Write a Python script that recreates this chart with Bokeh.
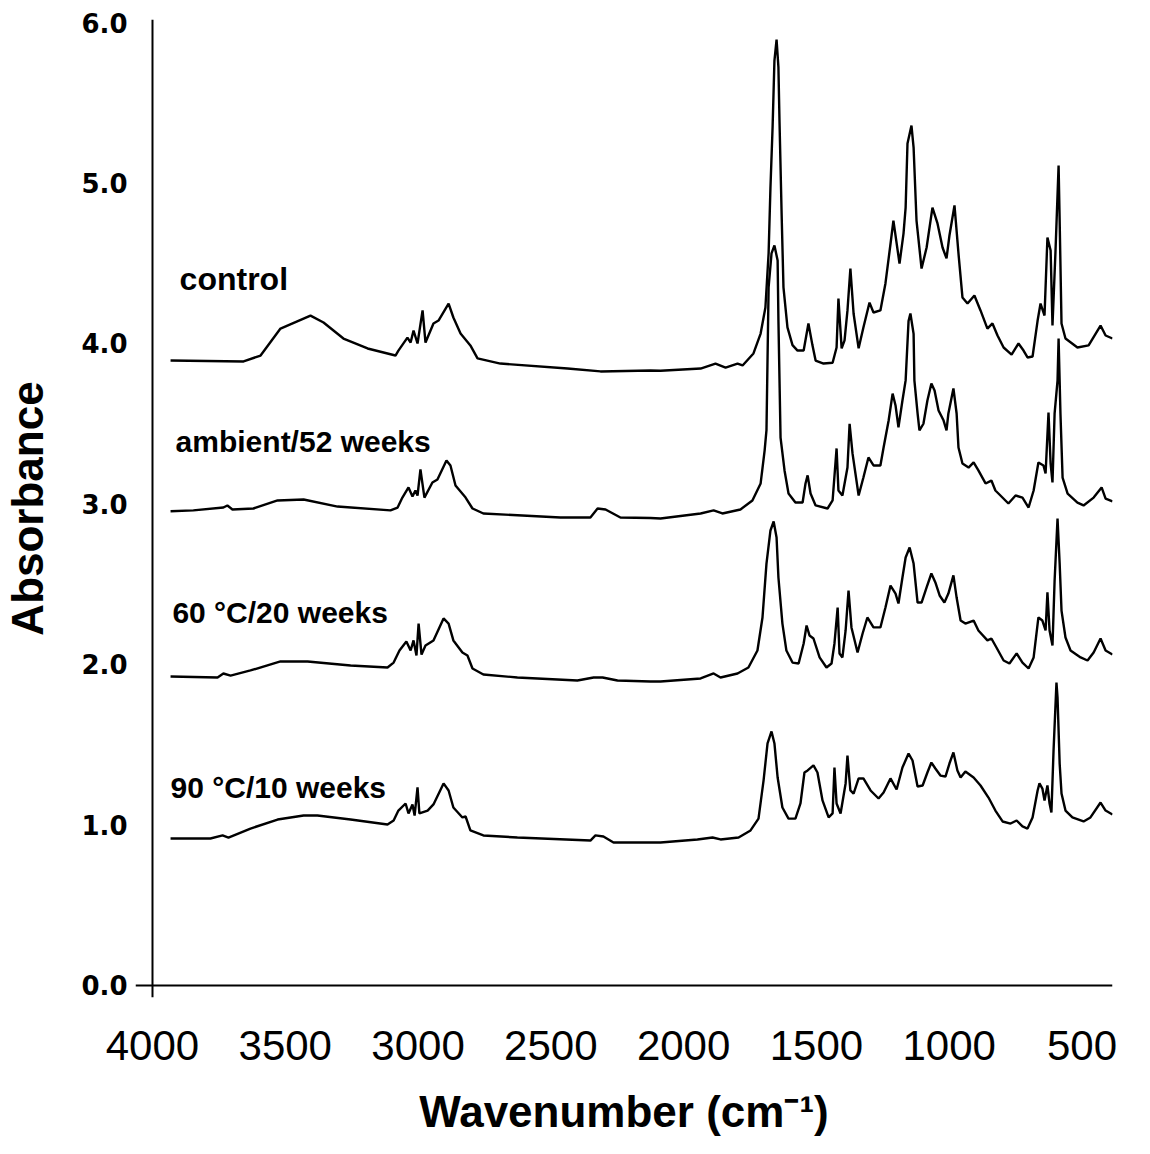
from bokeh.plotting import figure
from bokeh.models import Range1d, FixedTicker, NumeralTickFormatter, Span, ColumnDataSource
from bokeh.core.properties import value
from bokeh.embed import file_html
from bokeh.resources import INLINE

# ---------------- data (wavenumber in cm^-1, absorbance) ----------------
control_wn = [3932, 3657, 3593, 3518, 3405, 3356, 3281, 3190, 3085, 3074, 3040, 3028, 3017, 3002, 2983, 2972, 2942, 2923, 2885, 2867,
              2840, 2803, 2776, 2690, 2437, 2313, 2125,
              2087, 1936, 1880, 1842, 1797, 1778, 1737, 1710, 1692, 1680, 1673, 1665, 1658, 1650, 1643, 1639, 1631, 1624, 1609, 1590,
              1571, 1548, 1530, 1515, 1503, 1473, 1439, 1424, 1417, 1405, 1394, 1383, 1372, 1360, 1341, 1323, 1300, 1285, 1259, 1240,
              1221, 1210, 1187, 1172, 1164, 1157, 1142, 1134, 1123, 1104, 1085, 1063, 1044, 1025, 1010, 999, 980, 965, 950, 931,
              905, 882, 856, 837, 818, 795, 765, 739, 720, 705, 686, 667, 656, 641, 630, 618, 611, 600, 588, 584,
              577, 562, 517, 475, 430, 411, 385]
control_abs = [3.894, 3.888, 3.925, 4.093, 4.174, 4.131, 4.031, 3.969, 3.925, 3.956, 4.037, 4.006, 4.081, 4.000, 4.206, 4.006, 4.125, 4.143, 4.249, 4.162,
               4.062, 3.988, 3.907, 3.875, 3.844, 3.826, 3.832,
               3.830, 3.844, 3.875, 3.850, 3.875, 3.863, 3.938, 4.062, 4.224, 4.561, 4.972, 5.346, 5.763, 5.894, 5.720, 5.390, 4.810, 4.350, 4.100, 3.990,
               3.956, 3.956, 4.125, 3.990, 3.894, 3.875, 3.880, 3.975, 4.280, 3.970, 4.020, 4.206, 4.467, 4.187, 3.970, 4.100, 4.255, 4.193, 4.206, 4.374,
               4.620, 4.766, 4.498, 4.685, 4.847, 5.246, 5.358, 5.221, 4.766, 4.467, 4.598, 4.847, 4.748, 4.598, 4.530, 4.673, 4.860, 4.561, 4.287, 4.249,
               4.299, 4.206, 4.093, 4.125, 4.050, 3.975, 3.931, 4.000, 3.956, 3.913, 3.919, 4.143, 4.249, 4.174, 4.660, 4.579, 4.112, 4.561, 5.109, 4.766,
               4.125, 4.031, 3.975, 3.988, 4.112, 4.050, 4.031]

ambient_wn = [3932, 3846, 3733, 3718, 3699, 3620, 3529, 3431, 3303, 3104, 3077, 3059, 3036, 3021, 3010, 3002, 2991, 2976, 2946, 2927,
              2893, 2878, 2859, 2821, 2795, 2754, 2464, 2351, 2324, 2294, 2238, 2125,
              2087, 1936, 1887, 1854, 1786, 1741, 1710, 1695, 1688, 1680, 1669, 1658, 1646, 1643, 1635, 1620, 1605, 1579, 1552, 1541,
              1533, 1522, 1503, 1458, 1439, 1424, 1417, 1402, 1383, 1375, 1364, 1341, 1323, 1304, 1285, 1259, 1247, 1228, 1213, 1202,
              1191, 1176, 1164, 1153, 1146, 1134, 1131, 1119, 1112, 1097, 1082, 1067, 1055, 1040, 1021, 1010, 1003, 984, 972, 965,
              950, 927, 908, 890, 863, 841, 826, 807, 777, 750, 724, 701, 682, 664, 645, 637, 626, 618, 611, 603,
              592, 588, 581, 573, 554, 517, 494, 456, 426, 411, 385]
ambient_abs = [2.955, 2.960, 2.978, 2.991, 2.966, 2.972, 3.022, 3.028, 2.984, 2.960, 2.978, 3.040, 3.103, 3.047, 3.084, 3.053, 3.215, 3.040, 3.134, 3.153,
               3.271, 3.240, 3.115, 3.040, 2.972, 2.941, 2.916, 2.916, 2.972, 2.966, 2.916, 2.913,
               2.910, 2.941, 2.960, 2.941, 2.966, 3.022, 3.128, 3.333, 3.460, 4.349, 4.561, 4.611, 4.517, 4.143, 3.414, 3.209, 3.065, 3.009, 3.009, 3.128,
               3.178, 3.065, 2.991, 2.972, 3.022, 3.346, 3.084, 3.053, 3.227, 3.500, 3.315, 3.053, 3.165, 3.290, 3.240, 3.240, 3.352, 3.520, 3.688, 3.614,
               3.477, 3.645, 3.770, 4.140, 4.187, 4.060, 3.770, 3.564, 3.458, 3.500, 3.645, 3.751, 3.707, 3.583, 3.520, 3.458, 3.564, 3.720, 3.564, 3.352,
               3.252, 3.227, 3.259, 3.209, 3.128, 3.146, 3.084, 3.053, 3.003, 3.053, 3.040, 2.978, 3.084, 3.259, 3.240, 3.190, 3.570, 3.252, 3.134, 3.564,
               3.769, 4.031, 3.564, 3.165, 3.065, 3.009, 2.991, 3.040, 3.103, 3.034, 3.016]

c60_wn = [3932, 3755, 3733, 3706, 3631, 3518, 3416, 3254, 3115, 3092, 3070, 3044, 3028, 3017, 3006, 2998, 2987, 2972, 2942, 2904,
          2885, 2867, 2833, 2814, 2795, 2754, 2626, 2400, 2339, 2305, 2249, 2125,
          2087, 1936, 1887, 1861, 1797, 1756, 1722, 1703, 1688, 1673, 1661, 1650, 1643, 1628, 1613, 1590, 1567, 1548, 1537, 1526,
          1511, 1488, 1462, 1443, 1432, 1420, 1413, 1402, 1390, 1379, 1368, 1345, 1326, 1308, 1285, 1259, 1240, 1221, 1202, 1191,
          1176, 1164, 1149, 1134, 1119, 1104, 1085, 1067, 1052, 1036, 1018, 1003, 984, 972, 957, 939, 908, 890, 856, 841,
          822, 795, 773, 746, 724, 701, 682, 664, 649, 637, 630, 622, 611, 603, 592, 584, 577, 562, 543, 505,
          479, 456, 430, 411, 385]
c60_abs = [1.925, 1.919, 1.944, 1.931, 1.963, 2.019, 2.019, 1.994, 1.981, 2.012, 2.087, 2.143, 2.087, 2.150, 2.056, 2.255, 2.062, 2.118, 2.150, 2.287,
           2.255, 2.150, 2.075, 2.056, 1.975, 1.938, 1.919, 1.900, 1.919, 1.919, 1.900, 1.894,
           1.894, 1.913, 1.944, 1.919, 1.944, 1.981, 2.087, 2.293, 2.629, 2.835, 2.891, 2.791, 2.542, 2.255, 2.087, 2.012, 2.006, 2.131, 2.243, 2.181,
           2.162, 2.044, 1.981, 2.006, 2.131, 2.355, 2.069, 2.044, 2.212, 2.461, 2.231, 2.075, 2.193, 2.293, 2.231, 2.231, 2.355, 2.492, 2.442, 2.380,
           2.542, 2.667, 2.729, 2.629, 2.386, 2.386, 2.480, 2.567, 2.511, 2.430, 2.386, 2.442, 2.555, 2.417, 2.274, 2.255, 2.274, 2.212, 2.150, 2.162,
           2.106, 2.025, 2.006, 2.069, 2.012, 1.975, 2.044, 2.293, 2.274, 2.212, 2.449, 2.212, 2.118, 2.523, 2.910, 2.629, 2.336, 2.168, 2.087, 2.044,
           2.025, 2.075, 2.162, 2.087, 2.062]

c90_wn = [3932, 3782, 3736, 3714, 3631, 3529, 3431, 3379, 3254, 3115, 3092, 3074, 3047, 3036, 3021, 3013, 3002, 2995, 2964, 2942,
          2904, 2885, 2867, 2833, 2821, 2803, 2754, 2626, 2351, 2332, 2302, 2264, 2125,
          2087, 1948, 1891, 1861, 1793, 1748, 1718, 1699, 1684, 1669, 1658, 1646, 1628, 1605, 1579, 1560, 1545, 1533, 1511, 1496,
          1477, 1454, 1439, 1432, 1424, 1409, 1390, 1383, 1372, 1360, 1341, 1323, 1296, 1266, 1247, 1221, 1198, 1176, 1153, 1138,
          1119, 1100, 1082, 1067, 1052, 1033, 1014, 999, 984, 969, 957, 939, 908, 882, 852, 826, 799, 769, 746, 724,
          705, 686, 667, 660, 649, 641, 630, 622, 615, 607, 596, 592, 584, 577, 562, 536, 494, 468, 430, 411, 385]
c90_abs = [0.916, 0.916, 0.935, 0.922, 0.978, 1.034, 1.059, 1.059, 1.034, 1.003, 1.028, 1.090, 1.134, 1.072, 1.128, 1.059, 1.234, 1.072, 1.090, 1.128,
           1.259, 1.215, 1.109, 1.047, 1.053, 0.966, 0.935, 0.922, 0.903, 0.935, 0.928, 0.891, 0.891,
           0.891, 0.910, 0.922, 0.910, 0.922, 0.966, 1.040, 1.277, 1.508, 1.583, 1.508, 1.296, 1.109, 1.040, 1.040, 1.134, 1.327, 1.340, 1.371, 1.327,
           1.153, 1.047, 1.072, 1.358, 1.134, 1.072, 1.259, 1.433, 1.215, 1.196, 1.290, 1.290, 1.215, 1.165, 1.202, 1.290, 1.221, 1.358, 1.445, 1.402,
           1.240, 1.246, 1.327, 1.389, 1.352, 1.308, 1.302, 1.383, 1.452, 1.340, 1.296, 1.333, 1.296, 1.246, 1.171, 1.090, 1.022, 1.009, 1.028, 0.991,
           0.978, 1.047, 1.215, 1.259, 1.227, 1.153, 1.246, 1.134, 1.078, 1.464, 1.888, 1.794, 1.383, 1.196, 1.090, 1.047, 1.022, 1.047, 1.140, 1.090, 1.065]

series_names = ["control", "ambient/52 weeks", "60 \u00b0C/20 weeks", "90 \u00b0C/10 weeks"]
x_ticks = [4000, 3500, 3000, 2500, 2000, 1500, 1000, 500]
y_ticks = [0, 1, 2, 3, 4, 5, 6]

# label anchor positions (data units) and sizes
label_x = [3898, 3913, 3925, 3932]
label_y = [4.400, 3.390, 2.325, 1.235]
label_size = ["32px", "30px", "30px", "30px"]

# ---------------- figure ----------------
p = figure(frame_width=977, frame_height=978,
           x_range=Range1d(4064, 385), y_range=Range1d(-0.0748, 6.0187),
           output_backend="svg", toolbar_location=None,
           min_border_left=127, min_border_top=19, min_border_bottom=147, min_border_right=20)
p.xgrid.visible = False
p.ygrid.visible = False
p.outline_line_color = None
p.background_fill_color = "white"
p.border_fill_color = "white"

# x axis
xa = p.xaxis[0]
xa.ticker = FixedTicker(ticks=x_ticks)
xa.axis_line_color = None
xa.major_tick_line_color = None
xa.minor_tick_line_color = None
xa.major_label_standoff = 27
xa.major_label_text_font = "Liberation Sans"
xa.major_label_text_font_size = "42px"
xa.major_label_text_color = "black"
xa.axis_label = "Wavenumber (cm\u207b\u00b9)"
xa.axis_label_text_font = "Liberation Sans"
xa.axis_label_text_font_size = "44px"
xa.axis_label_text_font_style = "bold"
xa.axis_label_text_color = "black"
xa.axis_label_standoff = 24

# y axis
ya = p.yaxis[0]
ya.ticker = FixedTicker(ticks=y_ticks)
ya.formatter = NumeralTickFormatter(format="0.0")
ya.axis_line_color = None
ya.major_tick_line_color = None
ya.minor_tick_line_color = None
ya.major_label_standoff = 2
ya.major_label_text_font = "DejaVu Sans"
ya.major_label_text_font_size = "26px"
ya.major_label_text_font_style = "bold"
ya.major_label_text_color = "black"
ya.axis_label = "Absorbance"
ya.axis_label_text_font = "Liberation Sans"
ya.axis_label_text_font_size = "44px"
ya.axis_label_text_font_style = "bold"
ya.axis_label_text_color = "black"
ya.axis_label_standoff = 26

# axis lines drawn at wavenumber 4000 and absorbance 0
p.add_layout(Span(location=x_ticks[0], dimension="height", line_color="black", line_width=2))
p.add_layout(Span(location=y_ticks[0], dimension="width", line_color="black", line_width=2))

for wn, ab in [(control_wn, control_abs), (ambient_wn, ambient_abs), (c60_wn, c60_abs), (c90_wn, c90_abs)]:
    p.line(wn, ab, line_color="black", line_width=2.4)

src = ColumnDataSource(dict(x=label_x, y=label_y, text=series_names, size=label_size))
p.text(x="x", y="y", text="text", source=src, text_font=value("Liberation Sans"),
       text_font_style="bold", text_font_size="size", text_color="black",
       text_align="left", text_baseline="alphabetic")

open("out.html", "w").write(file_html(p, INLINE))
